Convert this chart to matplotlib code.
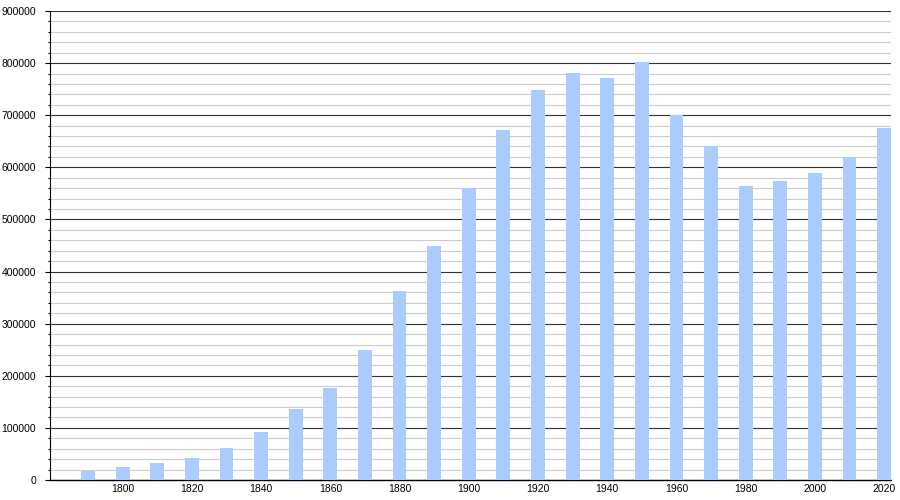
import matplotlib
matplotlib.use("Agg")
import matplotlib.pyplot as plt
from matplotlib.ticker import MultipleLocator

# population par recensement
years = [1790, 1800, 1810, 1820, 1830, 1840, 1850, 1860, 1870, 1880, 1890, 1900,
         1910, 1920, 1930, 1940, 1950, 1960, 1970, 1980, 1990, 2000, 2010, 2020]
population = [18000, 24400, 32600, 41600, 61400, 92100, 136000, 176500, 249500,
              362700, 449000, 560300, 671600, 748400, 781000, 771400, 802000,
              700400, 641000, 564200, 573800, 589100, 619800, 675500]
tick_years = list(range(1800, 2021, 20))

plt.rcParams['font.family'] = ['Liberation Sans', 'DejaVu Sans']
plt.rcParams['font.size'] = 7.5

fig = plt.figure(figsize=(9, 5), dpi=100)
ax = fig.add_axes([50/900, 20/500, 841/900, 469/500])

ax.bar(years, population, width=4, color='#aaccff', zorder=3)

ax.set_xlim(1779, 2022)
ax.set_ylim(0, 900000)
ax.set_xticks(tick_years)
ax.tick_params(axis='x', length=0, pad=3)
ax.yaxis.set_major_locator(MultipleLocator(100000))
ax.yaxis.set_minor_locator(MultipleLocator(20000))
ax.tick_params(axis='y', which='major', length=3.6, width=0.8, pad=6.5)
ax.tick_params(axis='y', which='minor', length=1.5, width=0.8)

ax.grid(axis='y', which='minor', color='#cccccc', linewidth=0.8, zorder=1)
ax.grid(axis='y', which='major', color='#333333', linewidth=0.8, zorder=2)

for s in ['top', 'right']:
    ax.spines[s].set_visible(False)
ax.spines['left'].set_linewidth(0.8)
ax.spines['bottom'].set_linewidth(1.0)

plt.savefig("out.png", dpi=100)
